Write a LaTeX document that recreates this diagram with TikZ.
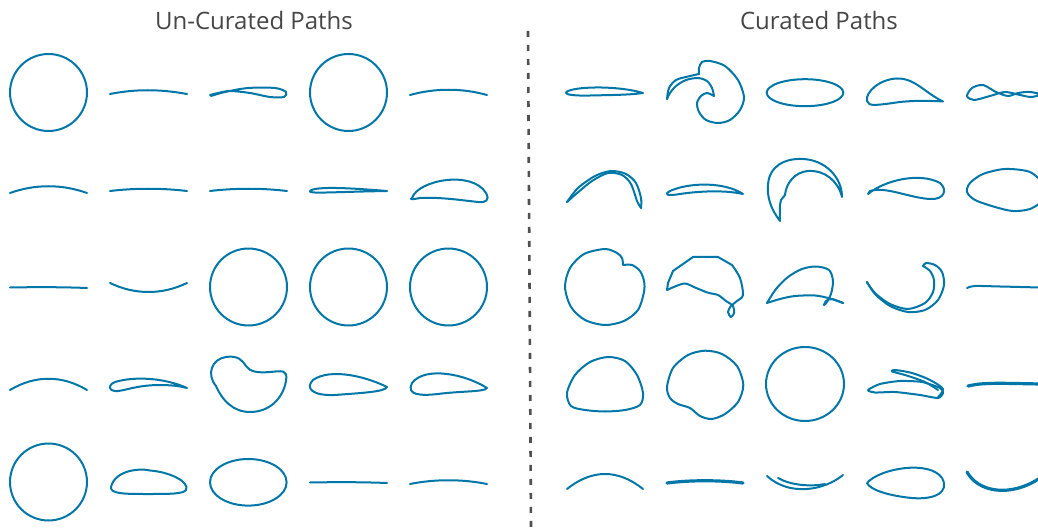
\documentclass[tikz,border=0pt]{standalone}
\usepackage{fontspec}
\setmainfont{Open Sans}
\usepackage{tikz}
\definecolor{pathblue}{RGB}{0,119,167}
\definecolor{titlegray}{RGB}{70,70,70}
\definecolor{dashgray}{RGB}{80,80,80}
\tikzset{pathline/.style = {draw=pathblue, line width=2pt, line join=round, line cap=round}}
\tikzset{thickpath/.style = {pathline, line width=3.2pt}}
\tikzset{dashline/.style = {draw=dashgray, line width=2.6pt, dash pattern=on 6pt off 8pt}}
\tikzset{paneltitle/.style = {text=titlegray, inner sep=0pt, font=\fontsize{24}{28}\selectfont}}

\begin{document}
\begin{tikzpicture}[x=1pt, y=-1pt]
    \useasboundingbox (0,0) rectangle (1038,529);
    \clip (0,0) rectangle (1038,529);
    \node [paneltitle] (uncurated) at (254,21) {Un-Curated Paths};
    \node [paneltitle] (curated) at (819,21) {Curated Paths};
    \draw [dashline] (528,31) -- (531,529);

    % un-curated, row 1
    \draw [pathline] (48.5,92.5) circle (38.5);
    \draw [pathline] (110,94) .. controls (135,89) and (160,89) .. (187,94);
    \draw [pathline] plot [smooth] coordinates {(211,96) (225,92) (248,88) (275,88) (286,92) (284,97) (270,97) (250,93) (230,91) (218,93) (210,95)};
    \draw [pathline] (348.5,92.5) circle (38.5);
    \draw [pathline] (410,95) .. controls (435,88) and (462,88) .. (487,95);

    % un-curated, row 2
    \draw [pathline] (10,193) .. controls (35,184) and (62,184) .. (87,193);
    \draw [pathline] (110,191) .. controls (135,188) and (162,188) .. (187,191);
    \draw [pathline] (210,191) .. controls (235,188) and (262,188) .. (287,191);
    \draw [pathline] (387,191) .. controls (350,188) and (315,186) .. (310,191) .. controls (308,194) and (330,192) .. (387,191);
    \draw [pathline] (412,198) .. controls (418,180) and (472,170) .. (486,193) .. controls (490,200) and (486,203) .. (478,202) .. controls (460,200) and (440,197) .. (420,198) .. controls (410,200) and (410,199) .. (412,198) -- cycle;

    % un-curated, row 3
    \draw [pathline] (10,287.5) .. controls (35,287) and (62,287) .. (87,288);
    \draw [pathline] (110,283) .. controls (135,295) and (162,295) .. (187,283);
    \draw [pathline] (248.5,287) circle (38.5);
    \draw [pathline] (348.5,287) circle (38.5);
    \draw [pathline] (448.5,287) circle (38.5);

    % un-curated, row 4
    \draw [pathline] (10,390) .. controls (35,375) and (62,375) .. (87,390);
    \draw [pathline] (187,388) .. controls (165,378) and (135,376) .. (115,382) .. controls (108,385) and (108,390) .. (115,391) .. controls (122,392) and (135,385) .. (160,385) .. controls (175,385) and (183,387) .. (187,388);
    \draw [pathline] (216,386) .. controls (206,374) and (212,359) .. (226,357) .. controls (238,355) and (243,361) .. (246,366) .. controls (250,372) and (258,373) .. (270,372) .. controls (282,371) and (288,369) .. (286,381) .. controls (283,398) and (270,412) .. (250,412) .. controls (233,412) and (222,400) .. (216,386) -- cycle;
    \draw [pathline] (387,387) .. controls (365,376) and (330,368) .. (313,380) .. controls (305,388) and (312,396) .. (335,395) .. controls (360,393) and (385,392) .. (387,387) -- cycle;
    \draw [pathline] (487,388) .. controls (465,374) and (425,366) .. (412,383) .. controls (406,395) and (420,396) .. (438,394) .. controls (460,391) and (485,392) .. (487,388) -- cycle;

    % un-curated, row 5
    \draw [pathline] (48.5,482) circle (38.5);
    \draw [pathline] (111,487) .. controls (115,470) and (140,468) .. (150,470.5) .. controls (170,472) and (190,482) .. (186,490) .. controls (183,494) and (170,494) .. (148,494) .. controls (125,494) and (110,494) .. (111,487) -- cycle;
    \draw [pathline] (248.3,482.3) ellipse [x radius=38.3, y radius=23.3];
    \draw [pathline] (310,482.5) .. controls (335,482) and (362,482) .. (387,483);
    \draw [pathline] (410,484) .. controls (435,479) and (462,479) .. (487,484);

    % curated, row 1
    \draw [pathline] (643,93) .. controls (620,86) and (580,86) .. (568,91) .. controls (562,94) and (570,96) .. (590,95.5) .. controls (610,95) and (630,95) .. (643,93) -- cycle;
    \draw [pathline] plot [smooth] coordinates {(667,99) (669,88) (676,80) (688,76.5) (699,74)};
    \draw [pathline] plot [smooth] coordinates {(699,74) (699,68) (702,62) (710,61) (725,66) (738,80) (744,97) (740,110) (730,120) (718,123) (706,120) (699,112) (697,103) (701,96) (707,93) (714,96)};
    \draw [pathline] plot [smooth] coordinates {(714,96) (712,88) (707,81) (698,78) (686,80) (676,86) (670,93) (667,99)};
    \draw [pathline] (805,92.7) ellipse [x radius=38.3, y radius=13.5];
    \draw [pathline] (943,101.5) .. controls (925,93) and (915,78) .. (897,78.5) .. controls (880,79) and (865,92) .. (867,101) .. controls (868,107) and (878,105) .. (900,102) .. controls (920,100) and (935,101) .. (943,101.5) -- cycle;
    \draw [pathline] plot [smooth] coordinates {(1045,95) (1030,92) (1018,93) (1008,96) (996,92) (983,85) (972,88) (967,96) (974,100) (990,96) (1005,92) (1020,95) (1032,97) (1045,93)};

    % curated, row 2
    \draw [pathline] plot [smooth] coordinates {(567,202) (578,188) (595,176) (611,171) (626,174) (636,183) (641,198) (641,208)};
    \draw [pathline] plot [smooth] coordinates {(641,208) (637,201) (631,184) (622,175) (608,173) (592,181) (576,194) (567,202)};
    \draw [pathline] (743,194) .. controls (725,182) and (690,182) .. (670,191) .. controls (663,195) and (668,196) .. (680,194) .. controls (700,191) and (725,190) .. (743,194) -- cycle;
    \draw [pathline] (780,221) .. controls (770,208) and (767,196) .. (768,185) .. controls (769,166) and (785,158) .. (803,159) .. controls (825,160) and (842,177) .. (842,197) .. controls (838,181) and (825,170) .. (808,171) .. controls (795,172) and (786,183) .. (785,195) -- (781,200) .. controls (779,206) and (780,215) .. (780,221);
    \draw [pathline] (868,194) .. controls (885,180) and (920,172) .. (940,183) .. controls (948,190) and (944,200) .. (930,199) .. controls (910,198) and (885,186) .. (870,191) -- cycle;
    \draw [pathline] plot [smooth] coordinates {(1045,185) (1030,172) (1005,169) (983,174) (970,183) (967,192) (975,200) (995,207) (1013,211) (1030,209) (1045,200)};

    % curated, row 3
    \draw [pathline] plot [smooth] coordinates {(623,265) (632,265) (640,271) (644,281) (644,292) (638,310) (624,321) (605,325) (585,320) (571,307) (565,287) (570,268) (584,254) (605,249) (617,253) (622,258) (623,265)};
    \draw [pathline] (667,290) -- (668,283) -- (673,271) -- (693,257) -- (718,257) -- (732,265) -- plot [smooth] coordinates {(732,265) (740,278) (743,295) (737,301) (731,306) (728,312) (731,317) (734,313) (733,306) (726,301) (718,295) (708,292.7) (695,287.5) (685,283.5) (675,286.5) (667,290)};
    \draw [pathline] plot [smooth] coordinates {(767,303) (776,289) (788,277) (802,269) (816,266.5) (829,270) (833,281) (831,294) (827,302) (824,305) (826,301) (832,299) (843,303)};
    \draw [pathline] plot [smooth] coordinates {(843,303) (830,298.5) (815,295.5) (795,296) (780,299) (767,303)};
    \draw [pathline] plot [smooth] coordinates {(867,282) (875,294) (890,306) (908,312) (925,310) (938,300) (944,285) (942,272) (935,265) (926,263) (923,266)};
    \draw [pathline] plot [smooth] coordinates {(923,266) (930,271) (934,280) (933,292) (925,303) (908,309) (890,304) (876,294) (868,284) (867,282)};
    \draw [pathline] plot [smooth] coordinates {(967,288) (975,286) (1000,286.5) (1040,287.5)};

    % curated, row 4
    \draw [pathline] plot [smooth cycle] coordinates {(567,393) (575,375) (590,362) (608,357) (625,361) (637,375) (643,393) (640,405) (625,410) (605,411.5) (585,410) (571,406)};
    \draw [pathline] plot [smooth cycle] coordinates {(667,387) (673,368) (688,355) (705,350.7) (722,354) (737,366) (743.3,385) (738,402) (725,414) (711.7,419) (700,416) (690,408) (678,404) (670,398)};
    \draw [pathline] (805,384) ellipse [x radius=39, y radius=37];
    \draw [pathline] plot [smooth cycle, tension=0.4] coordinates {(868,390) (880,384) (900,381) (922,382) (940,388) (943,393) (938,398) (920,395) (895,392) (875,392.5)};
    \draw [pathline] plot [smooth] coordinates {(938,397) (943,389) (930,380) (912,373) (895,370) (892,371.5) (905,375) (925,382) (938,390)};
    \draw [thickpath] plot [smooth] coordinates {(968,386) (980,384) (1000,383.3) (1040,384)};

    % curated, row 5
    \draw [pathline] (567,489) .. controls (592,469) and (618,469) .. (643,489);
    \draw [thickpath] (667,483) .. controls (690,480) and (720,480) .. (743,483);
    \draw [pathline] (767,476) .. controls (790,497) and (825,490) .. (843,475);
    \draw [pathline] (778,478) .. controls (790,485) and (810,487) .. (825,484);
    \draw [pathline] (867,483) .. controls (880,468) and (930,460) .. (942,478) .. controls (950,492) and (935,500) .. (912,498) .. controls (890,496) and (870,490) .. (867,483) -- cycle;
    \draw [thickpath] (967,472) .. controls (978,492) and (1010,498) .. (1040,478);
\end{tikzpicture}
\end{document}
